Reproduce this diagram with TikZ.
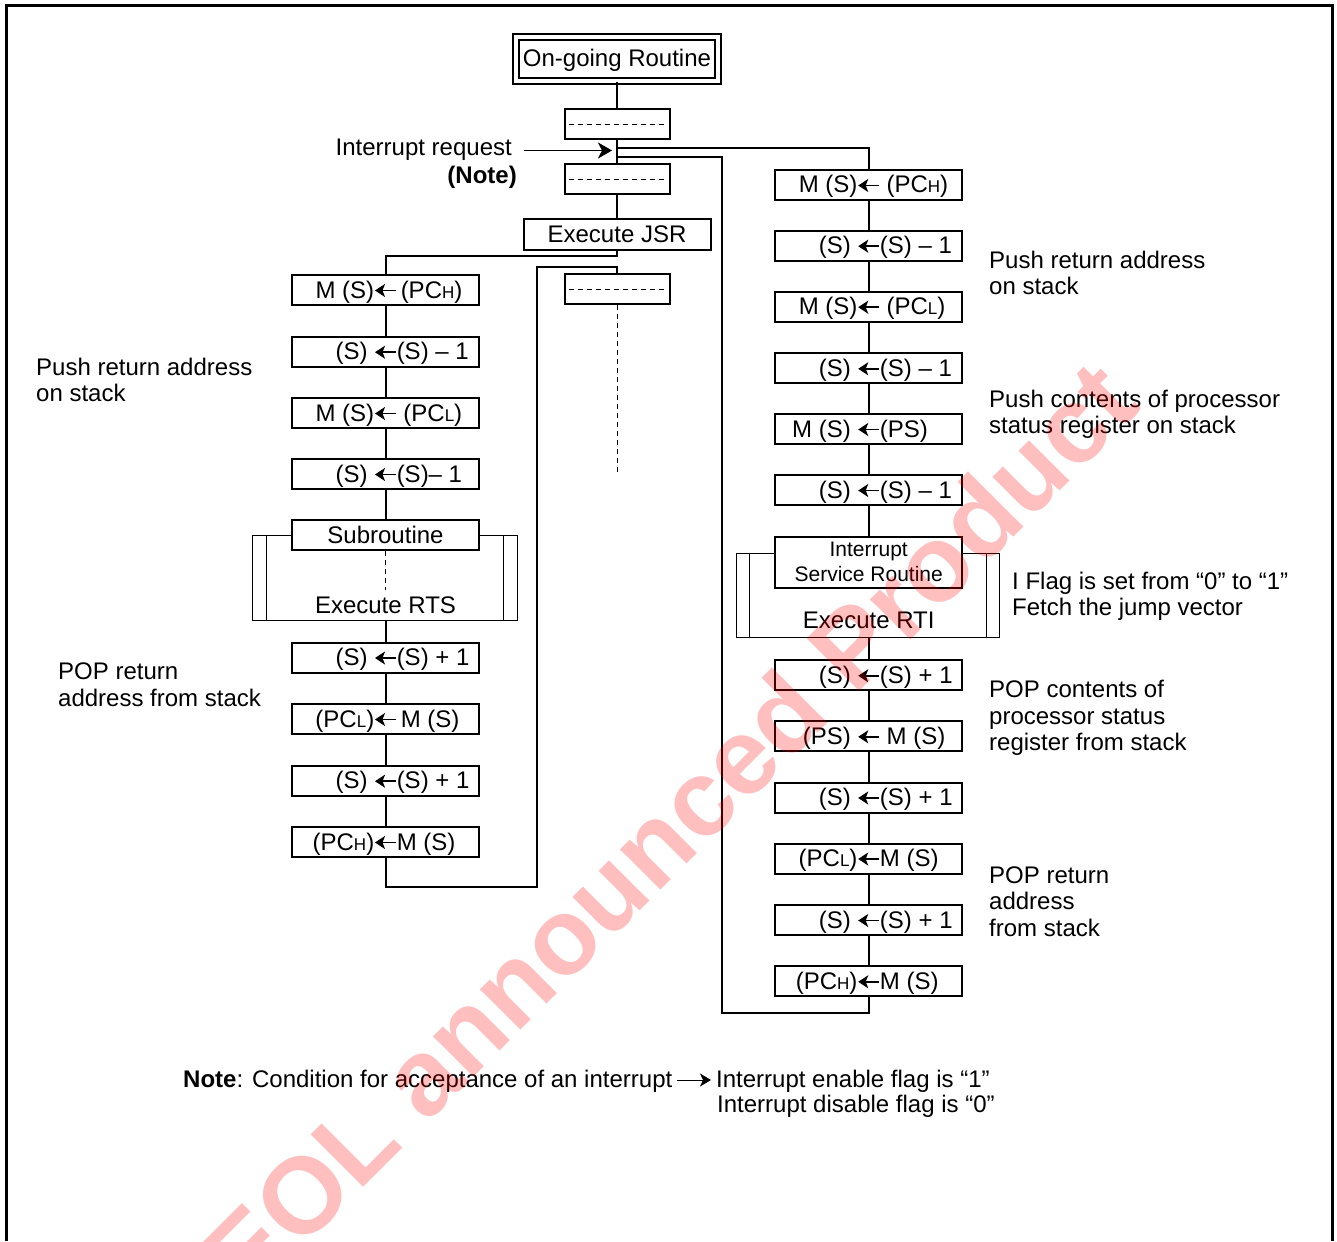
\documentclass[tikz,border=0pt]{standalone}
\usepackage{fontspec}
\setmainfont{Liberation Sans}
\usetikzlibrary{arrows.meta}
\newcommand\sbs[1]{{\fontsize{17}{17}\selectfont #1}}
\newcommand\larr{\tikz[baseline=-7.5pt]\draw[line width=1.5pt,-{Stealth[length=10pt,width=13pt,inset=2.5pt]}] (21pt,0pt)--(0pt,0pt);}
\newcommand\lr[2]{\makebox[79pt][r]{#1}\larr\makebox[79pt][l]{#2}}
\tikzset{
  opbox/.style={draw, line width=2pt, minimum width=187pt, minimum height=30pt, inner sep=0pt, text height=16pt, text depth=0pt},
  dbox/.style={draw, line width=2pt, minimum width=105pt, minimum height=30pt, inner sep=0pt},
  conn/.style={line width=2pt},
  thinframe/.style={line width=1pt},
  dashln/.style={line width=0.9pt, dash pattern=on 5pt off 4pt},
  lbl/.style={anchor=base west, inner sep=0pt},
  lblr/.style={anchor=base east, inner sep=0pt},
}
\begin{document}
\begin{tikzpicture}[x=1pt,y=-1pt,font=\fontsize{24}{28}\selectfont]
\useasboundingbox (0,0) rectangle (1337,1241);
% outer frame
\draw[line width=3pt] (6.5,1241) -- (6.5,6) -- (1332.5,6) -- (1332.5,1241);

% main column
\node[draw, line width=2pt, double, double distance=4pt, minimum width=202pt, minimum height=44pt, inner sep=0pt, text height=16pt, text depth=0pt] (ogr) at (617,59) {On-going Routine};
\node[dbox] (d1) at (617,124) {};
\node[dbox] (d2) at (617,179) {};
\node[opbox] (jsr) at (617,234.5) {Execute JSR};
\node[dbox] (d3) at (617,289) {};
\foreach \d in {d1,d2,d3} \draw[dashln] ([xshift=5pt]\d.west) -- ([xshift=-6pt]\d.east);
\coordinate (d3end) at (617,475);
\draw[dashln] (d3.south) -- (d3end);

\draw[conn] (ogr.south) -- (d1.north);
\draw[conn] (d1.south) -- (d2.north);
\draw[conn] (d2.south) -- (jsr.north);

% interrupt request
\node[lblr] (irq) at (512,156) {Interrupt request};
\node[lblr, font=\fontsize{24}{28}\selectfont\bfseries] (note) at (517,184) {(Note)};
\coordinate (irs) at (524,150.5);
\coordinate (irt) at (612,150.5);
\draw[line width=1pt,-{Stealth[length=14pt,width=16pt,inset=4pt]}] (irs) -- (irt);

% left column
\node[opbox] (L1) at (385.5,290) {\lr{M (S)}{\,(PC\sbs{H})}};
\node[opbox] (L2) at (385.5,351.7) {\lr{(S)\ }{(S) – 1}};
\node[opbox] (L3) at (385.5,413) {\lr{M (S)}{\ (PC\sbs{L})}};
\node[opbox] (L4) at (385.5,474) {\lr{(S)\ }{(S)– 1}};
\node[opbox] (sub) at (385.5,535) {Subroutine};
\node[opbox] (L6) at (385.5,657.5) {\lr{(S)\ }{(S) + 1}};
\node[opbox] (L7) at (385.5,719) {\lr{(PC\sbs{L})}{\,M (S)}};
\node[opbox] (L8) at (385.5,780.7) {\lr{(S)\ }{(S) + 1}};
\node[opbox] (L9) at (385.5,842) {\lr{(PC\sbs{H})}{M (S)}};
% subroutine bracket
\draw[thinframe] (sub.west |- 0,535) -- (252,535) -- (252,620) -- (517,620) -- (517,535) -- (sub.east |- 0,535);
\draw[thinframe] (266,535) -- (266,620);
\draw[thinframe] (503,535) -- (503,620);
\coordinate (subend) at (385.5,590);
\draw[dashln] (sub.south) -- (subend);
\node[anchor=base, inner sep=0pt] (rts) at (385.5,613) {Execute RTS};
\coordinate (subb) at (385.5,620);

\draw[conn] (L1.south) -- (L2.north);
\draw[conn] (L2.south) -- (L3.north);
\draw[conn] (L3.south) -- (L4.north);
\draw[conn] (L4.south) -- (sub.north);
\draw[conn] (subb) -- (L6.north);
\draw[conn] (L6.south) -- (L7.north);
\draw[conn] (L7.south) -- (L8.north);
\draw[conn] (L8.south) -- (L9.north);

\coordinate (jl) at (617,256);
\draw[conn] (jsr.south) -- (jl) -| (L1.north);
\coordinate (lb) at (537,887);
\coordinate (ret) at (617,267);
\draw[conn] (L9.south) |- (lb) |- (ret) -- (d3.north);

\node[lbl] (lp1) at (36,375) {Push return address};
\node[lbl] (lp2) at (36,401) {on stack};
\node[lbl] (lo1) at (58,679) {POP return};
\node[lbl] (lo2) at (58,706) {address from stack};

% right column
\node[opbox] (R1) at (868.7,185) {\lr{M (S)}{\ (PC\sbs{H})}};
\node[opbox] (R2) at (868.7,245.7) {\lr{(S)\ }{(S) – 1}};
\node[opbox] (R3) at (868.7,306.7) {\lr{M (S)}{\ (PC\sbs{L})}};
\node[opbox] (R4) at (868.7,368.3) {\lr{(S)\ }{(S) – 1}};
\node[opbox] (R5) at (868.7,429) {\lr{M (S)\ }{(PS)}};
\node[opbox] (R6) at (868.7,490) {\lr{(S)\ }{(S) – 1}};
\node[draw, line width=2pt, minimum width=187pt, minimum height=51pt, inner sep=0pt] (isr) at (868.7,562.5) {};
\node[anchor=base, inner sep=0pt, font=\fontsize{21}{24}\selectfont] (isr1) at (868.7,556) {Interrupt};
\node[anchor=base, inner sep=0pt, font=\fontsize{21}{24}\selectfont] (isr2) at (868.7,581) {Service Routine};
\draw[thinframe] (isr.west |- 0,553) -- (736,553) -- (736,637) -- (999,637) -- (999,553) -- (isr.east |- 0,553);
\draw[thinframe] (749,553) -- (749,637);
\draw[thinframe] (986,553) -- (986,637);
\node[anchor=base, inner sep=0pt] (rti) at (868.7,628) {Execute RTI};
\coordinate (isrb) at (868.7,637);
\node[opbox] (R7) at (868.7,675.3) {\lr{(S)\ }{(S) + 1}};
\node[opbox] (R8) at (868.7,736.3) {\lr{(PS)\ }{\ M (S)}};
\node[opbox] (R9) at (868.7,797.5) {\lr{(S)\ }{(S) + 1}};
\node[opbox] (R10) at (868.7,858.5) {\lr{(PC\sbs{L})}{M (S)}};
\node[opbox] (R11) at (868.7,920) {\lr{(S)\ }{(S) + 1}};
\node[opbox] (R12) at (868.7,981.3) {\lr{(PC\sbs{H})}{M (S)}};

\draw[conn] (R1.south) -- (R2.north);
\draw[conn] (R2.south) -- (R3.north);
\draw[conn] (R3.south) -- (R4.north);
\draw[conn] (R4.south) -- (R5.north);
\draw[conn] (R5.south) -- (R6.north);
\draw[conn] (R6.south) -- (isr.north);
\draw[conn] (isrb) -- (R7.north);
\draw[conn] (R7.south) -- (R8.north);
\draw[conn] (R8.south) -- (R9.north);
\draw[conn] (R9.south) -- (R10.north);
\draw[conn] (R10.south) -- (R11.north);
\draw[conn] (R11.south) -- (R12.north);

\coordinate (irq1) at (617,148);
\coordinate (irq2) at (617,157.5);
\coordinate (rb) at (722,1013);
\draw[conn] (irq1) -| (R1.north);
\draw[conn] (R12.south) |- (rb) |- (irq2);

\node[lbl] (rp1) at (989,268) {Push return address};
\node[lbl] (rp2) at (989,294) {on stack};
\node[lbl] (pc1) at (989,407) {Push contents of processor};
\node[lbl] (pc2) at (989,433) {status register on stack};
\node[lbl] (if1) at (1012,589) {I Flag is set from “0” to “1”};
\node[lbl] (if2) at (1012,615) {Fetch the jump vector};
\node[lbl] (po1) at (989,697) {POP contents of};
\node[lbl] (po2) at (989,724) {processor status};
\node[lbl] (po3) at (989,750) {register from stack};
\node[lbl] (pr1) at (989,883) {POP return};
\node[lbl] (pr2) at (989,909) {address};
\node[lbl] (pr3) at (989,936) {from stack};

% note
\node[lbl] (nt) at (183,1087) {\textbf{Note}: Condition for acceptance of an interrupt};
\node[lbl] (en) at (716,1087) {Interrupt enable flag is “1”};
\node[lbl] (dis) at (717,1112) {Interrupt disable flag is “0”};
\coordinate (na1) at (677,1080);
\coordinate (na2) at (711,1080);
\draw[line width=1pt,-{Stealth[length=11pt,width=13pt,inset=3pt]}] (na1) -- (na2);

% watermark
\node[rotate=45, anchor=base west, inner sep=0pt, font=\fontsize{108}{108}\selectfont\bfseries, text=red, text opacity=0.25] (wm) at (248,1303) {EOL announced Product};
\end{tikzpicture}
\end{document}
